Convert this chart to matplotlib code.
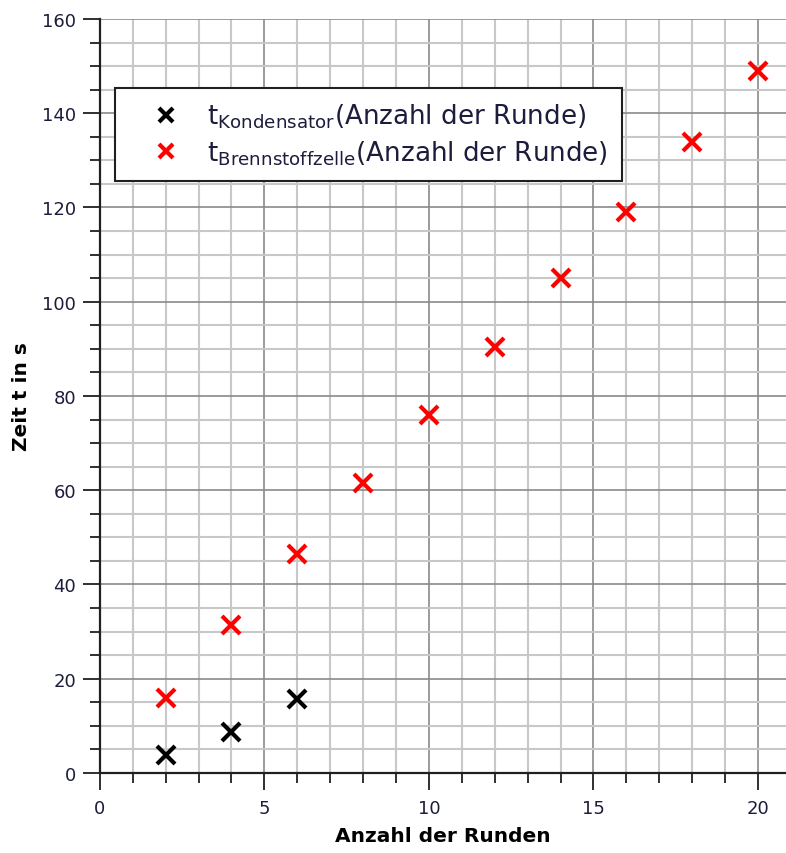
import matplotlib
matplotlib.use("Agg")
import matplotlib.pyplot as plt
from matplotlib.ticker import MultipleLocator

# rounds and measured times
runden_kond = [2, 4, 6]
t_kond = [3.8, 8.7, 15.7]
runden_bz = [2, 4, 6, 8, 10, 12, 14, 16, 18, 20]
t_bz = [16, 31.5, 46.5, 61.5, 76, 90.3, 105, 119, 134, 149]

label_kond = r'$\mathregular{t_{Kondensator}}$(Anzahl der Runde)'
label_bz = r'$\mathregular{t_{Brennstoffzelle}}$(Anzahl der Runde)'

text_col = '#1c1c3c'

fig = plt.figure(figsize=(7.86, 8.54), dpi=100)
ax = fig.add_axes([0.127, 0.0937, 0.873, 0.8829])

ax.plot(runden_kond, t_kond, 'x', color='black', ms=12.5, mew=3, label=label_kond, zorder=5)
ax.plot(runden_bz, t_bz, 'x', color='#ff0000', ms=12.5, mew=3, label=label_bz, zorder=5)

ax.set_xlim(0, 20.85)
ax.set_ylim(0, 160)
ax.xaxis.set_major_locator(MultipleLocator(5))
ax.xaxis.set_minor_locator(MultipleLocator(1))
ax.yaxis.set_major_locator(MultipleLocator(20))
ax.yaxis.set_minor_locator(MultipleLocator(5))

ax.grid(which='minor', color='#c8c8c8', lw=1.5, zorder=0)
ax.grid(which='major', color='#8a8a8a', lw=1.2, zorder=1)
ax.set_axisbelow(True)

for s in ['top', 'right']:
    ax.spines[s].set_visible(False)
for s in ['left', 'bottom']:
    ax.spines[s].set_linewidth(1.6)
    ax.spines[s].set_color('#202020')

ax.tick_params(which='major', direction='out', length=12, width=1.3, color='#202020',
               labelsize=13, labelcolor=text_col, pad=5)
ax.tick_params(axis='x', which='major', pad=7)
ax.tick_params(which='minor', direction='out', length=7, width=1.3, color='#202020')

ax.set_xlabel('Anzahl der Runden', fontsize=14.5, fontweight='bold', labelpad=6)
ax.set_ylabel('Zeit t in s', fontsize=14.5, fontweight='bold', labelpad=8)

leg = ax.legend(loc='upper left', bbox_to_anchor=(0.022, 0.909), fontsize=18.8,
                frameon=True, fancybox=False, framealpha=1, edgecolor='#202020',
                borderpad=0.55, handletextpad=0.18, labelspacing=0.3,
                borderaxespad=0, handlelength=2.8, markerscale=0.85)
leg.get_frame().set_linewidth(1.5)
for t in leg.get_texts():
    t.set_color(text_col)

fig.savefig('out.png', dpi=100)
